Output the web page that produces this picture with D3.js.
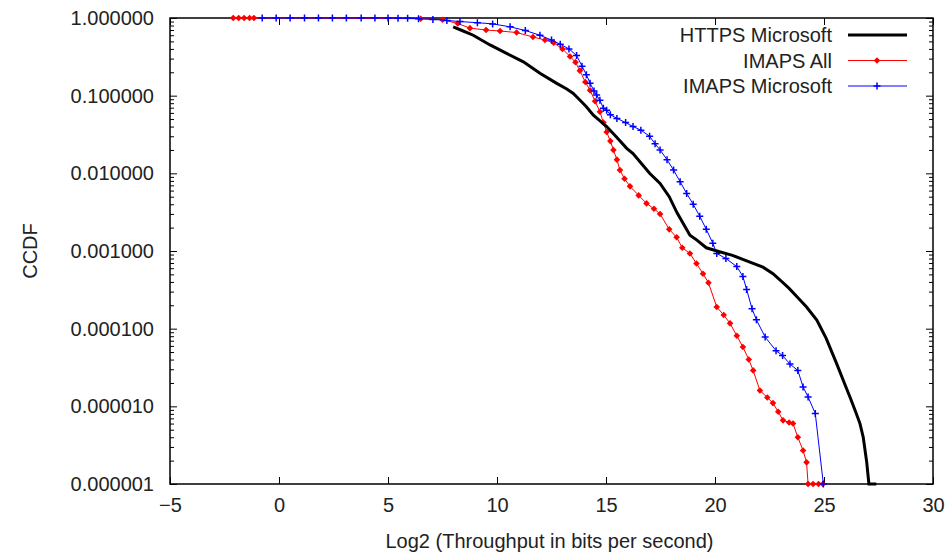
<!DOCTYPE html>
<html>
<head>
<meta charset="utf-8">
<script src="https://cdn.jsdelivr.net/npm/d3@7"></script>
<style>
  body { margin: 0; background: #fff; }
  svg text { font-family: "Liberation Sans", Arial, sans-serif; fill: #222; }
</style>
</head>
<body>
<div id="chart"></div>
<script>
// HTTPS Microsoft (black, no markers)
const httpsX = [7.99, 8.45, 8.91, 9.68, 10.44, 11.21, 11.97, 12.74, 13.2, 13.5, 13.8, 14.1, 14.42, 14.7,
  15.03, 15.5, 15.95, 16.24, 17.0, 17.48, 17.9, 18.26, 18.85, 19.17, 19.6, 20.09, 20.8, 21.6, 22.2, 22.66, 23.0,
  23.4, 23.75, 24.2, 24.67, 25.1, 25.58, 25.9, 26.19, 26.45, 26.65, 26.8, 26.96, 27.06, 27.4];
const httpsY = [0.77, 0.68, 0.60, 0.45, 0.35, 0.273, 0.194, 0.144, 0.122, 0.107, 0.088, 0.072, 0.056, 0.048,
  0.040, 0.029, 0.021, 0.018, 0.010, 0.0074, 0.0050, 0.0031, 0.0016, 0.00138, 0.00110, 0.00100, 0.00088, 0.00072, 0.00062, 0.00051, 0.00042,
  0.00033, 0.00026, 0.00019, 0.000129, 0.000075, 0.0000355, 0.000021, 0.0000132, 0.0000085, 0.000006, 0.000004, 0.0000019, 0.000001, 0.000001];

// IMAPS All (red, filled markers)
const imapsAllX = [-2.1, -1.85, -1.6, -1.35, -1.15, 6.5, 7.5, 8.2, 8.76, 9.5, 10.14, 10.9, 11.65, 12.2, 12.6,
  13.0, 13.35, 13.6, 13.8, 14.05, 14.27, 14.5, 14.72, 14.88, 15.03, 15.2, 15.34, 15.5, 15.64, 15.85,
  16.1, 16.5, 16.86, 17.2, 17.48, 17.9, 18.24, 18.5, 18.85, 19.15, 19.45, 19.7, 20.08, 20.4, 20.69,
  21.0, 21.28, 21.55, 21.75, 22.06, 22.4, 22.66, 22.9, 23.12, 23.4, 23.58, 23.8, 24.04, 24.2, 24.27,
  24.5, 24.75, 24.95];
const imapsAllY = [1, 1, 1, 1, 1, 0.98, 0.95, 0.85, 0.74, 0.70, 0.68, 0.65, 0.57, 0.52, 0.48,
  0.40, 0.32, 0.27, 0.21, 0.15, 0.117, 0.085, 0.062, 0.045, 0.034, 0.026, 0.020, 0.015, 0.011, 0.0085,
  0.0068, 0.0052, 0.0041, 0.0035, 0.0030, 0.0019, 0.0015, 0.0011, 0.00093, 0.00069, 0.00051, 0.00039, 0.00019, 0.00015, 0.000117,
  0.000081, 0.000058, 0.000040, 0.000029, 0.000016, 0.000013, 0.000011, 0.0000085, 0.0000066, 0.0000062, 0.000006, 0.000004, 0.0000027, 0.0000019, 0.000001,
  0.000001, 0.000001, 0.000001];

// IMAPS Microsoft (blue, plus markers)
const imapsMsX = [-0.77, -0.13, 0.51, 1.17, 1.81, 2.45, 3.09, 3.77, 4.4, 5.0, 5.46, 5.9, 6.4, 7.06, 7.7, 8.3, 9.1, 9.8, 10.6, 11.3,
  11.97, 12.5, 12.9, 13.3, 13.65, 13.9, 14.1, 14.27, 14.45, 14.57, 14.72, 14.88, 15.03, 15.2, 15.5,
  15.9, 16.24, 16.6, 17.0, 17.25, 17.48, 17.8, 18.1, 18.4, 18.7, 19.0, 19.3, 19.6, 19.9, 20.08,
  20.5, 21.0, 21.28, 21.45, 21.7, 21.9, 22.3, 22.8, 23.1, 23.44, 23.8, 24.04, 24.27, 24.6, 24.97];
const imapsMsY = [1, 1, 1, 1, 1, 1, 1, 1, 1, 1, 0.995, 0.99, 0.98, 0.96, 0.93, 0.90, 0.87, 0.84, 0.77, 0.69,
  0.60, 0.52, 0.46, 0.40, 0.33, 0.24, 0.186, 0.145, 0.115, 0.102, 0.087, 0.069, 0.065, 0.057, 0.051,
  0.045, 0.040, 0.036, 0.030, 0.024, 0.020, 0.015, 0.011, 0.0078, 0.0055, 0.0040, 0.0028, 0.0019, 0.00126, 0.00093,
  0.00080, 0.00063, 0.00047, 0.00032, 0.00018, 0.00013, 0.000078, 0.000052, 0.000045, 0.000035, 0.000029, 0.0000178, 0.0000132, 0.0000081, 0.000001];

const xTicks = [-5, 0, 5, 10, 15, 20, 25, 30];
const yTicks = [1e-6, 1e-5, 1e-4, 1e-3, 1e-2, 1e-1, 1];

const width = 947, height = 557;
const margin = { top: 18, right: 14, bottom: 73, left: 170 };
const plotW = width - margin.left - margin.right;
const plotH = height - margin.top - margin.bottom;

const svg = d3.select('#chart').append('svg')
  .attr('width', width)
  .attr('height', height);

const x = d3.scaleLinear().domain([-5, 30]).range([margin.left, margin.left + plotW]);
const y = d3.scaleLog().domain([1e-6, 1]).range([margin.top + plotH, margin.top]);

// minor ticks 2..9 per decade
const minorTicks = [];
for (let e = -6; e < 0; e++) {
  for (let m = 2; m <= 9; m++) minorTicks.push(m * Math.pow(10, e));
}

function styleAxis(g) {
  g.select('.domain').remove();
  g.selectAll('.tick line').attr('stroke', '#000').attr('stroke-width', 1);
  g.selectAll('.tick text').attr('font-size', '20px').attr('fill', '#222')
    .style('font-family', '"Liberation Sans", Arial, sans-serif');
}

// left axis
svg.append('g')
  .attr('transform', `translate(${margin.left},0)`)
  .call(d3.axisLeft(y).tickValues(yTicks).tickFormat(d3.format('.6f')).tickSize(-7).tickPadding(16))
  .call(styleAxis);
svg.append('g')
  .attr('transform', `translate(${margin.left},0)`)
  .call(d3.axisLeft(y).tickValues(minorTicks).tickFormat('').tickSize(-4))
  .call(styleAxis);
// right axis (mirror)
svg.append('g')
  .attr('transform', `translate(${margin.left + plotW},0)`)
  .call(d3.axisRight(y).tickValues(yTicks).tickFormat('').tickSize(-7))
  .call(styleAxis);
svg.append('g')
  .attr('transform', `translate(${margin.left + plotW},0)`)
  .call(d3.axisRight(y).tickValues(minorTicks).tickFormat('').tickSize(-4))
  .call(styleAxis);
// bottom axis
svg.append('g')
  .attr('transform', `translate(0,${margin.top + plotH})`)
  .call(d3.axisBottom(x).tickValues(xTicks).tickFormat(d3.format('d')).tickSize(-7).tickPadding(14))
  .call(styleAxis);
// top axis (mirror)
svg.append('g')
  .attr('transform', `translate(0,${margin.top})`)
  .call(d3.axisTop(x).tickValues(xTicks).tickFormat('').tickSize(-7))
  .call(styleAxis);

// frame
svg.append('rect')
  .attr('x', margin.left).attr('y', margin.top)
  .attr('width', plotW).attr('height', plotH)
  .attr('fill', 'none').attr('stroke', '#000').attr('stroke-width', 1.5);

// axis titles
svg.append('text')
  .attr('x', margin.left + plotW / 2 - 2)
  .attr('y', 548)
  .attr('text-anchor', 'middle')
  .attr('font-size', '20px')
  .text('Log2 (Throughput in bits per second)');
svg.append('text')
  .attr('transform', `translate(37,${margin.top + plotH / 2}) rotate(-90)`)
  .attr('text-anchor', 'middle')
  .attr('font-size', '20px')
  .text('CCDF');

const line = d3.line().x(d => x(d[0])).y(d => y(d[1]));
const zip = (xs, ys) => xs.map((v, i) => [v, ys[i]]);

const httpsData = zip(httpsX, httpsY);
const allData = zip(imapsAllX, imapsAllY);
const msData = zip(imapsMsX, imapsMsY);

const diamondPath = 'M0,-3.3L3.3,0L0,3.3L-3.3,0Z';
const plusPath = 'M-3.5,0H3.5M0,-3.5V3.5';

// IMAPS All
svg.append('path').datum(allData)
  .attr('d', line).attr('fill', 'none').attr('stroke', '#ff0000').attr('stroke-width', 1);
svg.append('g').selectAll('path').data(allData).enter().append('path')
  .attr('transform', d => `translate(${x(d[0])},${y(d[1])})`)
  .attr('d', diamondPath)
  .attr('fill', '#ff0000');

// IMAPS Microsoft
svg.append('path').datum(msData)
  .attr('d', line).attr('fill', 'none').attr('stroke', '#0000ff').attr('stroke-width', 1);
svg.append('g').selectAll('path').data(msData).enter().append('path')
  .attr('transform', d => `translate(${x(d[0])},${y(d[1])})`)
  .attr('d', plusPath)
  .attr('stroke', '#0000ff').attr('stroke-width', 1.5);

// HTTPS Microsoft
svg.append('path').datum(httpsData)
  .attr('d', line).attr('fill', 'none').attr('stroke', '#000').attr('stroke-width', 3);

// legend
const legendItems = [
  { name: 'HTTPS Microsoft', color: '#000', width: 3, marker: null },
  { name: 'IMAPS All', color: '#ff0000', width: 1, marker: 'diamond' },
  { name: 'IMAPS Microsoft', color: '#0000ff', width: 1, marker: 'plus' }
];
const legend = svg.append('g').attr('class', 'legend');
legendItems.forEach((item, i) => {
  const cy = 35 + i * 25.5;
  legend.append('text')
    .attr('x', 832).attr('y', cy + 7)
    .attr('text-anchor', 'end')
    .attr('font-size', '20px')
    .text(item.name);
  legend.append('line')
    .attr('x1', 848).attr('x2', 907).attr('y1', cy).attr('y2', cy)
    .attr('stroke', item.color).attr('stroke-width', item.width);
  if (item.marker === 'diamond') {
    legend.append('path')
      .attr('transform', `translate(877,${cy})`)
      .attr('d', diamondPath)
      .attr('fill', item.color);
  } else if (item.marker === 'plus') {
    legend.append('path')
      .attr('transform', `translate(877,${cy})`)
      .attr('d', plusPath)
      .attr('stroke', item.color).attr('stroke-width', 1.5);
  }
});
</script>
</body>
</html>
